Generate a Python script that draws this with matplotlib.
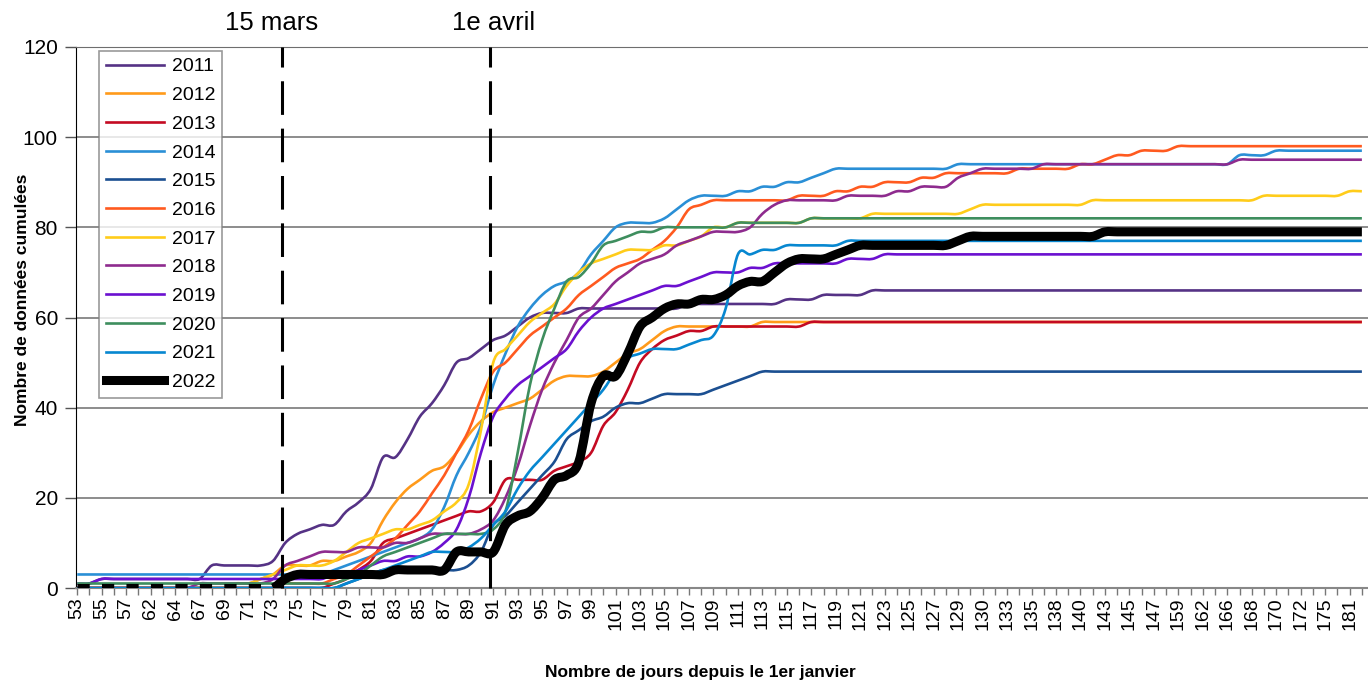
import matplotlib
matplotlib.use('Agg')
import matplotlib.pyplot as plt
from matplotlib.lines import Line2D
from matplotlib.path import Path
from matplotlib.patches import PathPatch
import numpy as np

plt.rcParams['font.family'] = ['Liberation Sans', 'DejaVu Sans']

# categories: day of year (only every other one is labelled)
days = ['53', '54', '55', '56', '57', '60', '62', '63', '64', '65',
        '67', '68', '69', '70', '71', '72', '73', '74', '75', '76',
        '77', '78', '79', '80', '81', '82', '83', '84', '85', '86',
        '87', '88', '89', '90', '91', '92', '93', '94', '95', '96',
        '97', '98', '99', '100', '101', '102', '103', '104', '105', '106',
        '107', '108', '109', '110', '111', '112', '113', '114', '115', '116',
        '117', '118', '119', '120', '121', '122', '123', '124', '125', '126',
        '127', '128', '129', '129', '130', '132', '133', '134', '135', '137',
        '138', '139', '140', '142', '143', '144', '145', '146', '147', '152',
        '159', '161', '162', '164', '166', '167', '168', '169', '170', '171',
        '172', '174', '175', '178', '181', '182']

y2011 = [0, 1, 2, 2, 2, 2, 2, 2, 2, 2,
         2, 5, 5, 5, 5, 5, 6, 10, 12, 13,
         14, 14, 17, 19, 22, 29, 29, 33, 38, 41,
         45, 50, 51, 53, 55, 56, 58, 60, 61, 61,
         61, 62, 62, 62, 62, 62, 62, 62, 62, 62,
         63, 63, 63, 63, 63, 63, 63, 63, 64, 64,
         64, 65, 65, 65, 65, 66, 66, 66, 66, 66,
         66, 66, 66, 66, 66, 66, 66, 66, 66, 66,
         66, 66, 66, 66, 66, 66, 66, 66, 66, 66,
         66, 66, 66, 66, 66, 66, 66, 66, 66, 66,
         66, 66, 66, 66, 66, 66]
y2012 = [0, 0, 0, 0, 0, 0, 0, 0, 0, 0,
         0, 0, 0, 1, 1, 2, 3, 5, 5, 5,
         6, 6, 7, 8, 10, 15, 19, 22, 24, 26,
         27, 30, 34, 37, 39, 40, 41, 42, 44, 46,
         47, 47, 47, 48, 50, 52, 53, 55, 57, 58,
         58, 58, 58, 58, 58, 58, 59, 59, 59, 59,
         59, 59, 59, 59, 59, 59, 59, 59, 59, 59,
         59, 59, 59, 59, 59, 59, 59, 59, 59, 59,
         59, 59, 59, 59, 59, 59, 59, 59, 59, 59,
         59, 59, 59, 59, 59, 59, 59, 59, 59, 59,
         59, 59, 59, 59, 59, 59]
y2013 = [0, 0, 0, 0, 0, 0, 0, 0, 0, 0,
         0, 0, 0, 0, 0, 0, 0, 0, 0, 0,
         0, 1, 2, 4, 6, 10, 11, 12, 13, 14,
         15, 16, 17, 17, 19, 24, 24, 24, 24, 26,
         27, 28, 30, 36, 39, 44, 50, 53, 55, 56,
         57, 57, 58, 58, 58, 58, 58, 58, 58, 58,
         59, 59, 59, 59, 59, 59, 59, 59, 59, 59,
         59, 59, 59, 59, 59, 59, 59, 59, 59, 59,
         59, 59, 59, 59, 59, 59, 59, 59, 59, 59,
         59, 59, 59, 59, 59, 59, 59, 59, 59, 59,
         59, 59, 59, 59, 59, 59]
y2014 = [3, 3, 3, 3, 3, 3, 3, 3, 3, 3,
         3, 3, 3, 3, 3, 3, 3, 3, 3, 3,
         3, 4, 5, 6, 7, 8, 9, 10, 11, 13,
         18, 25, 30, 36, 45, 52, 58, 62, 65, 67,
         68, 70, 74, 77, 80, 81, 81, 81, 82, 84,
         86, 87, 87, 87, 88, 88, 89, 89, 90, 90,
         91, 92, 93, 93, 93, 93, 93, 93, 93, 93,
         93, 93, 94, 94, 94, 94, 94, 94, 94, 94,
         94, 94, 94, 94, 94, 94, 94, 94, 94, 94,
         94, 94, 94, 94, 94, 96, 96, 96, 97, 97,
         97, 97, 97, 97, 97, 97]
y2015 = [0, 0, 0, 0, 0, 0, 0, 0, 0, 0,
         0, 0, 0, 0, 0, 0, 0, 0, 0, 0,
         0, 0, 1, 2, 3, 4, 4, 4, 4, 4,
         4, 4, 5, 8, 14, 16, 19, 22, 25, 28,
         33, 35, 37, 38, 40, 41, 41, 42, 43, 43,
         43, 43, 44, 45, 46, 47, 48, 48, 48, 48,
         48, 48, 48, 48, 48, 48, 48, 48, 48, 48,
         48, 48, 48, 48, 48, 48, 48, 48, 48, 48,
         48, 48, 48, 48, 48, 48, 48, 48, 48, 48,
         48, 48, 48, 48, 48, 48, 48, 48, 48, 48,
         48, 48, 48, 48, 48, 48]
y2016 = [0, 0, 0, 0, 0, 0, 0, 0, 0, 0,
         0, 0, 0, 0, 0, 0, 0, 1, 1, 1,
         1, 2, 3, 5, 7, 9, 11, 14, 17, 21,
         25, 30, 35, 42, 48, 50, 53, 56, 58, 60,
         62, 65, 67, 69, 71, 72, 73, 75, 77, 80,
         84, 85, 86, 86, 86, 86, 86, 86, 86, 87,
         87, 87, 88, 88, 89, 89, 90, 90, 90, 91,
         91, 92, 92, 92, 92, 92, 92, 93, 93, 93,
         93, 93, 94, 94, 95, 96, 96, 97, 97, 97,
         98, 98, 98, 98, 98, 98, 98, 98, 98, 98,
         98, 98, 98, 98, 98, 98]
y2017 = [0, 0, 0, 0, 0, 0, 0, 0, 0, 0,
         0, 0, 0, 1, 1, 2, 3, 4, 5, 5,
         5, 6, 8, 10, 11, 12, 13, 13, 14, 15,
         17, 19, 23, 35, 50, 53, 56, 59, 61, 63,
         67, 70, 72, 73, 74, 75, 75, 75, 76, 76,
         77, 78, 80, 80, 81, 81, 81, 81, 81, 81,
         82, 82, 82, 82, 82, 83, 83, 83, 83, 83,
         83, 83, 83, 84, 85, 85, 85, 85, 85, 85,
         85, 85, 85, 86, 86, 86, 86, 86, 86, 86,
         86, 86, 86, 86, 86, 86, 86, 87, 87, 87,
         87, 87, 87, 87, 88, 88]
y2018 = [0, 0, 0, 0, 0, 0, 0, 0, 0, 0,
         1, 1, 1, 1, 1, 1, 2, 5, 6, 7,
         8, 8, 8, 9, 9, 9, 10, 10, 11, 12,
         12, 12, 12, 13, 15, 20, 27, 36, 44, 50,
         55, 60, 62, 65, 68, 70, 72, 73, 74, 76,
         77, 78, 79, 79, 79, 80, 83, 85, 86, 86,
         86, 86, 86, 87, 87, 87, 87, 88, 88, 89,
         89, 89, 91, 92, 93, 93, 93, 93, 93, 94,
         94, 94, 94, 94, 94, 94, 94, 94, 94, 94,
         94, 94, 94, 94, 94, 95, 95, 95, 95, 95,
         95, 95, 95, 95, 95, 95]
y2019 = [1, 1, 2, 2, 2, 2, 2, 2, 2, 2,
         2, 2, 2, 2, 2, 2, 2, 2, 2, 2,
         2, 3, 3, 4, 5, 6, 6, 7, 7, 8,
         10, 13, 20, 30, 38, 42, 45, 47, 49, 51,
         53, 57, 60, 62, 63, 64, 65, 66, 67, 67,
         68, 69, 70, 70, 70, 71, 71, 72, 72, 72,
         72, 72, 72, 73, 73, 73, 74, 74, 74, 74,
         74, 74, 74, 74, 74, 74, 74, 74, 74, 74,
         74, 74, 74, 74, 74, 74, 74, 74, 74, 74,
         74, 74, 74, 74, 74, 74, 74, 74, 74, 74,
         74, 74, 74, 74, 74, 74]
y2020 = [1, 1, 1, 1, 1, 1, 1, 1, 1, 1,
         1, 1, 1, 1, 1, 1, 1, 1, 1, 1,
         1, 1, 2, 3, 5, 7, 8, 9, 10, 11,
         12, 12, 12, 12, 13, 17, 30, 45, 55, 62,
         68, 69, 72, 76, 77, 78, 79, 79, 80, 80,
         80, 80, 80, 80, 81, 81, 81, 81, 81, 81,
         82, 82, 82, 82, 82, 82, 82, 82, 82, 82,
         82, 82, 82, 82, 82, 82, 82, 82, 82, 82,
         82, 82, 82, 82, 82, 82, 82, 82, 82, 82,
         82, 82, 82, 82, 82, 82, 82, 82, 82, 82,
         82, 82, 82, 82, 82, 82]
y2021 = [0, 0, 0, 0, 0, 0, 0, 0, 0, 0,
         0, 0, 0, 0, 0, 0, 0, 0, 0, 0,
         0, 0, 1, 2, 3, 4, 5, 6, 7, 8,
         8, 8, 9, 11, 14, 17, 22, 26, 29, 32,
         35, 38, 41, 44, 48, 51, 52, 53, 53, 53,
         54, 55, 56, 62, 74, 74, 75, 75, 76, 76,
         76, 76, 76, 77, 77, 77, 77, 77, 77, 77,
         77, 77, 77, 77, 77, 77, 77, 77, 77, 77,
         77, 77, 77, 77, 77, 77, 77, 77, 77, 77,
         77, 77, 77, 77, 77, 77, 77, 77, 77, 77,
         77, 77, 77, 77, 77, 77]
y2022 = [0, 0, 0, 0, 0, 0, 0, 0, 0, 0,
         0, 0, 0, 0, 0, 0, 0, 2, 3, 3,
         3, 3, 3, 3, 3, 3, 4, 4, 4, 4,
         4, 8, 8, 8, 8, 14, 16, 17, 20, 24,
         25, 28, 41, 47, 47, 52, 58, 60, 62, 63,
         63, 64, 64, 65, 67, 68, 68, 70, 72, 73,
         73, 73, 74, 75, 76, 76, 76, 76, 76, 76,
         76, 76, 77, 78, 78, 78, 78, 78, 78, 78,
         78, 78, 78, 78, 79, 79, 79, 79, 79, 79,
         79, 79, 79, 79, 79, 79, 79, 79, 79, 79,
         79, 79, 79, 79, 79, 79]

years = ['2011', '2012', '2013', '2014', '2015', '2016',
         '2017', '2018', '2019', '2020', '2021', '2022']
series = [y2011, y2012, y2013, y2014, y2015, y2016,
          y2017, y2018, y2019, y2020, y2021, y2022]
colors = ['#553285', '#FF9A1A', '#C40A22', '#2A8FD6', '#1B4F91', '#FF5A1F',
          '#FFCC1A', '#8E2B8E', '#6B10D0', '#3E8E5E', '#0787D0', '#000000']


def smooth_path(xs, ys, start=0):
    # Excel-like "smoothed line": cubic bezier through the data points
    xs = np.asarray(xs, float)
    ys = np.asarray(ys, float)
    n = len(xs)
    verts = [(xs[start], ys[start])]
    codes = [Path.MOVETO]
    for i in range(start, n - 1):
        i0, i3 = max(i - 1, 0), min(i + 2, n - 1)
        c1 = (xs[i] + (xs[i + 1] - xs[i0]) / 6, ys[i] + (ys[i + 1] - ys[i0]) / 6)
        c2 = (xs[i + 1] - (xs[i3] - xs[i]) / 6, ys[i + 1] - (ys[i3] - ys[i]) / 6)
        verts += [c1, c2, (xs[i + 1], ys[i + 1])]
        codes += [Path.CURVE4] * 3
    return Path(verts, codes)


W, H = 1368, 684
fig = plt.figure(figsize=(W / 100, H / 100), dpi=100)
ax = fig.add_axes([76 / W, 1 - 588 / H, (W - 76) / W, (588 - 47) / H])

x = np.arange(len(days))
ax.set_xlim(-0.1, 105.5)
ax.set_ylim(0, 120)

# dash length of one category for the start of 2022
cat_pt = ax.get_position().width * W / 105.6 * 72 / 100
lw22 = 6.5
lw = 1.9

handles = []
for yr, vals, col in zip(years, series, colors):
    if yr == '2022':
        k = days.index('73')
        ax.plot(x[:k + 1], vals[:k + 1], color=col, lw=lw22,
                linestyle=(0, (cat_pt / lw22, cat_pt / lw22)),
                dash_capstyle='butt', zorder=5)
        ax.add_patch(PathPatch(smooth_path(x, vals, start=k), fill=False,
                               edgecolor=col, lw=lw22, joinstyle='round',
                               capstyle='butt', zorder=5))
        handles.append(Line2D([], [], color=col, lw=lw22))
    else:
        ax.add_patch(PathPatch(smooth_path(x, vals), fill=False, edgecolor=col,
                               lw=lw, joinstyle='round', zorder=3))
        handles.append(Line2D([], [], color=col, lw=lw))

# reference dates
for lab in ['74', '91']:
    ax.axvline(days.index(lab) - 0.3, color='black', lw=2.2,
               linestyle=(0, (11, 4.5)), zorder=6, clip_on=False)
ax.text(days.index('74') - 1.1, 125.4, '15 mars', fontsize=18.5,
        ha='center', va='center')
ax.text(days.index('91') + 0.0, 125.4, '1e avril', fontsize=18.5,
        ha='center', va='center')

ax.set_yticks(range(0, 121, 20))
ax.set_xticks(x)
ax.set_xticklabels([d if i % 2 == 0 else '' for i, d in enumerate(days)],
                   rotation=90, fontsize=14)
ax.tick_params(axis='y', labelsize=15, length=8, width=1, color='#555555',
               pad=5)
ax.tick_params(axis='x', length=5, width=1, color='#777777', pad=2)
ax.yaxis.grid(True, color='#6e6e6e', lw=1.1)
ax.set_axisbelow(True)

ax.spines['right'].set_visible(False)
ax.spines['top'].set_color('#6e6e6e')
ax.spines['left'].set_color('black')
ax.spines['bottom'].set_color('#888888')
ax.spines['bottom'].set_linewidth(1.5)

fig.text(23 / W, 1 - 300 / H, 'Nombre de données cumulées', rotation=90,
         fontsize=12.5, fontweight='bold', ha='center', va='center')
fig.text(700 / W, 1 - 673 / H, 'Nombre de jours depuis le 1er janvier',
         fontsize=12.5, fontweight='bold', ha='center', va='center')

leg = ax.legend(handles, years, loc='upper left',
                bbox_to_anchor=((99 - 76) / (W - 76), (588 - 51) / (588 - 47)),
                fontsize=14, frameon=True, fancybox=False, handlelength=3.0,
                handletextpad=0.4, labelspacing=0.57, borderpad=0.35,
                borderaxespad=0)
leg.get_frame().set_edgecolor('#808080')
leg.get_frame().set_linewidth(1.2)
leg.set_zorder(10)

fig.savefig('out.png', dpi=100)
